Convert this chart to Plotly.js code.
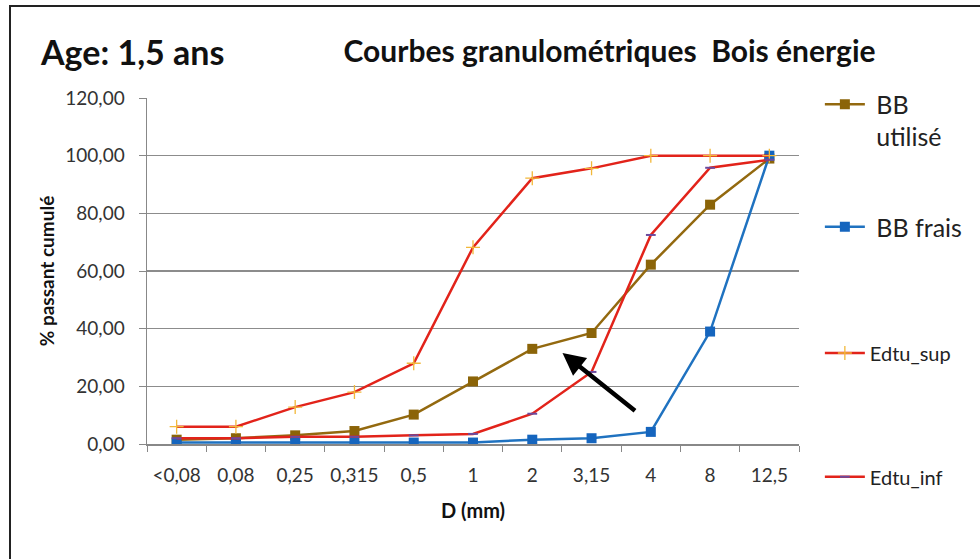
<!DOCTYPE html>
<html>
<head>
<meta charset="utf-8">
<script src="https://cdn.plot.ly/plotly-3.0.1.min.js"></script>
<style>
  html, body { margin: 0; padding: 0; background: #fff; }
  #wrap { position: relative; width: 980px; height: 559px; overflow: hidden; }
  #chart { width: 980px; height: 559px; }
  #frame { position: absolute; left: 9px; top: 5px; width: 1000px; height: 600px;
           border-left: 2px solid #222; border-top: 2px solid #222; pointer-events: none; }
</style>
</head>
<body>
<div id="wrap"><div id="chart"></div><div id="frame"></div></div>
<script>
// Categories (sieve sizes, mm)
const categories = ["<0,08", "0,08", "0,25", "0,315", "0,5", "1", "2", "3,15", "4", "8", "12,5"];

// Series values (% passant cumulé)
const bbUtilise = [1.5, 2.0, 3.0, 4.5, 10.2, 21.7, 33.0, 38.5, 62.2, 83.0, 99.0];
const bbFrais   = [0.5, 0.5, 0.5, 0.5, 0.5, 0.5, 1.5, 2.0, 4.2, 39.0, 100.0];
const edtuSup   = [6.0, 6.0, 12.8, 18.0, 28.0, 68.2, 92.2, 95.6, 100.0, 100.0, 100.0];
const edtuInf   = [2.0, 2.0, 2.5, 2.5, 3.0, 3.5, 10.5, 25.0, 72.5, 95.8, 98.6];

// Legend names
const names = ["&nbsp;BB<br>&nbsp;utilisé", "&nbsp;BB frais", "Edtu_sup", "Edtu_inf"];

const FONT = "Lato, 'Open Sans', sans-serif";

const traces = [
  { x: categories, y: bbUtilise, name: names[0], type: "scatter", mode: "lines+markers",
    line: { color: "#93690F", width: 2.5 },
    marker: { symbol: "square", size: 10, color: "#8B6408" }, legend: "legend" },
  { x: categories, y: bbFrais, name: names[1], type: "scatter", mode: "lines+markers",
    line: { color: "#1F72C0", width: 2.5 },
    marker: { symbol: "square", size: 10, color: "#1565BE" }, legend: "legend2" },
  { x: categories, y: edtuSup, name: names[2], type: "scatter", mode: "lines+markers",
    line: { color: "#E2231A", width: 2.5 },
    marker: { symbol: "cross-thin", size: 10, line: { color: "#F2B83A", width: 1.3 } }, legend: "legend3" },
  { x: categories, y: edtuInf, name: names[3], type: "scatter", mode: "lines+markers",
    line: { color: "#E2231A", width: 2.5 },
    marker: { symbol: "line-ew", size: 7, line: { color: "#6B4A9E", width: 2 } }, legend: "legend4" }
];

const legBase = { x: 1.032, xanchor: "left", yanchor: "middle", bgcolor: "rgba(0,0,0,0)",
                  itemwidth: 40, tracegroupgap: 0, valign: "top" };

const layout = {
  width: 980, height: 559,
  margin: { l: 147, r: 179, t: 98, b: 115 },
  paper_bgcolor: "#ffffff", plot_bgcolor: "#ffffff",
  separators: ", ",
  font: { family: FONT, color: "#333333" },
  title: { text: "<b>Courbes granulométriques  Bois énergie</b>",
           font: { family: FONT, size: 30, color: "#111111" },
           x: 0.622, xanchor: "center", y: 0.907, yanchor: "middle" },
  xaxis: {
    type: "category",
    tickson: "boundaries",
    ticks: "outside", ticklen: 6, tickcolor: "#888888", tickwidth: 1,
    ticklabelstandoff: 14,
    showline: true, linecolor: "#888888", linewidth: 1.5,
    showgrid: false, zeroline: false,
    tickfont: { family: FONT, size: 19, color: "#333333" },
    title: { text: "<b>D (mm)</b>", font: { family: FONT, size: 20, color: "#111111" }, standoff: 18 },
    range: [-0.5, 10.5]
  },
  yaxis: {
    range: [0, 120], dtick: 20, tickformat: ".2f",
    ticks: "outside", ticklen: 7, tickcolor: "#888888",
    ticklabelstandoff: 10,
    showline: true, linecolor: "#888888", linewidth: 1.5,
    showgrid: true, gridcolor: "#8c8c8c", gridwidth: 1.3,
    zeroline: false,
    tickfont: { family: FONT, size: 19, color: "#333333" },
    title: { text: "<b>% passant cumulé</b>", font: { family: FONT, size: 19, color: "#111111" }, standoff: 5 }
  },
  legend:  Object.assign({}, legBase, { y: 0.935, font: { family: FONT, size: 25, color: "#222222" } }),
  legend2: Object.assign({}, legBase, { y: 0.627, font: { family: FONT, size: 25, color: "#222222" } }),
  legend3: Object.assign({}, legBase, { y: 0.263, font: { family: FONT, size: 20, color: "#222222" } }),
  legend4: Object.assign({}, legBase, { y: -0.095, font: { family: FONT, size: 20, color: "#222222" } }),
  annotations: [
    { xref: "paper", yref: "paper", x: -0.167, y: 1.135, xanchor: "left", yanchor: "middle",
      text: "<b>Age: 1,5 ans</b>", showarrow: false,
      font: { family: FONT, size: 34, color: "#111111" } },
    { xref: "x", yref: "y", x: 6.51, y: 31.6, ax: 74, ay: 59, text: "",
      showarrow: true, arrowhead: 2, arrowsize: 1, arrowwidth: 4.5, arrowcolor: "#000000" }
  ],
  showlegend: true
};

Plotly.newPlot("chart", traces, layout, { staticPlot: true, displayModeBar: false });
</script>
</body>
</html>
